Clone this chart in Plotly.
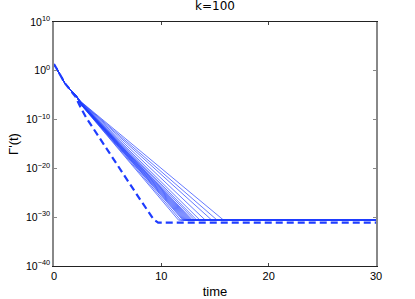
import plotly.graph_objects as go

# ---- data (log10 of Gamma'(t)) ----
t_common = [0, 0.5, 1.0, 1.5, 2.0]
logG_common = [1.4, -0.6, -2.5, -3.8, -4.9]

t_start = 2.5
solid_logG_start = [-6.9, -6.9, -6.85, -6.85, -6.8, -6.8, -6.75, -6.75, -6.7, -6.7,
                    -6.65, -6.65, -6.6, -6.55, -6.5, -6.45, -6.4, -6.35, -6.3]
solid_t_floor = [11.6, 11.8, 12.0, 12.1, 12.2, 12.3, 12.4, 12.5, 12.6, 12.7,
                 12.8, 12.9, 13.1, 13.3, 13.6, 14.1, 14.7, 15.2, 15.8]
solid_floor = -30.6
t_end = 30

dashed_t = [0, 0.5, 1.0, 1.5, 2.0, 2.5, 3.0, 8.0, 8.9, 9.3, 9.7, 30]
dashed_logG = [1.4, -0.6, -2.5, -3.9, -5.3, -7.6, -9.6, -26.3, -29.2, -30.5, -31.1, -31.1]

x_ticks = [0, 10, 20, 30]
y_exps = [10, 0, -10, -20, -30, -40]

blue = "rgb(30,60,255)"

fig = go.Figure()
for s, tf in zip(solid_logG_start, solid_t_floor):
    xs = t_common + [t_start, tf, t_end]
    ys = logG_common + [s, solid_floor, solid_floor]
    fig.add_trace(go.Scatter(
        x=xs, y=[10 ** v for v in ys], mode="lines",
        line=dict(color=blue, width=0.8), opacity=0.85,
        showlegend=False, hoverinfo="skip"))

fig.add_trace(go.Scatter(
    x=dashed_t, y=[10 ** v for v in dashed_logG], mode="lines",
    line=dict(color=blue, width=2.2, dash="7px,4px"),
    showlegend=False, hoverinfo="skip"))

def sup(e):
    s = str(e).replace("-", "\u2212")
    return "10<sup>%s</sup>" % s

font = "Liberation Sans, Arial, sans-serif"
fig.update_layout(
    width=415, height=299,
    margin=dict(l=54, r=39, t=22, b=33),
    paper_bgcolor="white", plot_bgcolor="white",
    font=dict(family=font, size=11, color="black"),
    title=dict(text="k=100", x=0.5, xref="paper", xanchor="center",
               y=1, yref="container", yanchor="top", pad=dict(t=2),
               font=dict(family="DejaVu Sans, sans-serif", size=12, color="black")),
    xaxis=dict(range=[0, 30], tickvals=x_ticks, ticktext=[str(v) for v in x_ticks],
               ticks="inside", ticklen=3, tickcolor="#444", tickwidth=1,
               showline=True, linecolor="#222", linewidth=1, mirror="ticks",
               showgrid=False, zeroline=False, automargin=False,
               tickfont=dict(family=font, size=11),
               title=dict(text="time", font=dict(family=font, size=13), standoff=7)),
    yaxis=dict(type="log", range=[-40, 10],
               tickvals=[10.0 ** e for e in y_exps], ticktext=[sup(e) for e in y_exps],
               ticks="inside", ticklen=3, tickcolor="#888", tickwidth=1,
               showline=True, linecolor="#888", linewidth=1.5, mirror="ticks",
               showgrid=False, zeroline=False, automargin=False,
               tickfont=dict(family=font, size=10.5),
               title=dict(text="Γ'(t)", font=dict(family=font, size=13), standoff=4)),
)

fig.write_html("out.html",
               config={"displayModeBar": False},
               post_script="document.body.style.margin='0';"
                           "document.documentElement.style.overflow='hidden';")
